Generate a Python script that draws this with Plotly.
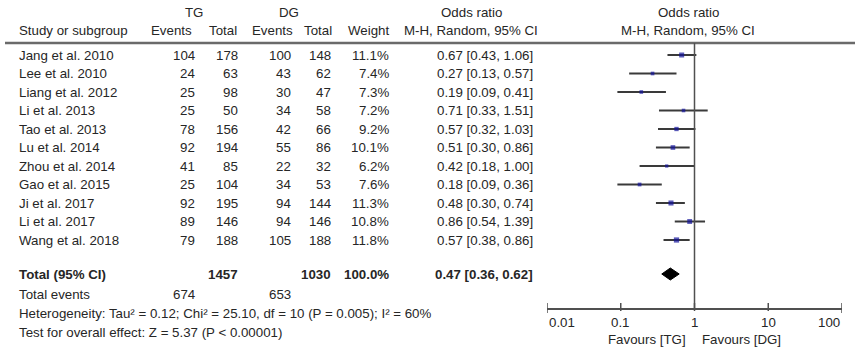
import math
import plotly.graph_objects as go

studies = ["Jang et al. 2010", "Lee et al. 2010", "Liang et al. 2012", "Li et al. 2013",
           "Tao et al. 2013", "Lu et al. 2014", "Zhou et al. 2014", "Gao et al. 2015",
           "Ji et al. 2017", "Li et al. 2017", "Wang et al. 2018"]
tg_events = [104, 24, 25, 25, 78, 92, 41, 25, 92, 89, 79]
tg_total = [178, 63, 98, 50, 156, 194, 85, 104, 195, 146, 188]
dg_events = [100, 43, 30, 34, 42, 55, 22, 34, 94, 94, 105]
dg_total = [148, 62, 47, 58, 66, 86, 32, 53, 144, 146, 188]
weights = [11.1, 7.4, 7.3, 7.2, 9.2, 10.1, 6.2, 7.6, 11.3, 10.8, 11.8]
odds = [0.67, 0.27, 0.19, 0.71, 0.57, 0.51, 0.42, 0.18, 0.48, 0.86, 0.57]
ci_low = [0.43, 0.13, 0.09, 0.33, 0.32, 0.30, 0.18, 0.09, 0.30, 0.54, 0.38]
ci_high = [1.06, 0.57, 0.41, 1.51, 1.03, 0.86, 1.00, 0.36, 0.74, 1.39, 0.86]

total_tg = 1457
total_dg = 1030
total_weight = "100.0%"
total_or = 0.47
total_low = 0.36
total_high = 0.62
events_tg = 674
events_dg = 653
heterogeneity = "Heterogeneity: Tau² = 0.12; Chi² = 25.10, df = 10 (P = 0.005); I² = 60%"
overall = "Test for overall effect: Z = 5.37 (P < 0.00001)"
tick_vals = [0.01, 0.1, 1, 10, 100]
tick_text = ["0.01", "0.1", "1", "10", "100"]

W, H = 860, 353
FONT = "Liberation Sans, Arial, sans-serif"
TXT = "#262626"
FS = 13.3

row_y = [55 + 18.5 * i for i in range(len(studies))]
y_total = 274
y_events = 294
y_het = 313
y_test = 332
y_axis = 309
y_head1 = 12
y_head2 = 30
y_rule = 43

fig = go.Figure()

# CI lines
lx, ly = [], []
for lo, hi, y in zip(ci_low, ci_high, row_y):
    lx += [lo, hi, None]
    ly += [y, y, None]
fig.add_trace(go.Scatter(x=lx, y=ly, mode="lines", line=dict(color="#3a3a3a", width=2),
                         hoverinfo="skip", showlegend=False))
# point estimates
fig.add_trace(go.Scatter(x=odds, y=row_y, mode="markers",
                         marker=dict(symbol="square", color="#12129a",
                                     size=[1.0 + 0.36 * w for w in weights], line=dict(width=0)),
                         showlegend=False))
# diamond
fig.add_trace(go.Scatter(x=[total_low, total_or, total_high, total_or, total_low],
                         y=[y_total, y_total - 6, y_total, y_total + 6, y_total],
                         mode="lines", fill="toself", fillcolor="black",
                         line=dict(color="black", width=1), showlegend=False))

shapes = []
# header rule
shapes.append(dict(type="line", xref="paper", yref="y", x0=5 / W, x1=855 / W, y0=y_rule, y1=y_rule,
                   line=dict(color="#6a6a6a", width=2.5)))
# null line
shapes.append(dict(type="line", xref="x", yref="y", x0=1, x1=1, y0=y_rule, y1=y_axis,
                   line=dict(color="#505050", width=1.5)))
# axis line
shapes.append(dict(type="line", xref="x", yref="y", x0=tick_vals[0], x1=tick_vals[-1],
                   y0=y_axis, y1=y_axis, line=dict(color="#505050", width=2)))
for i, t in enumerate(tick_vals):
    ext = 4 if i in (0, len(tick_vals) - 1) else 2
    shapes.append(dict(type="line", xref="x", yref="y", x0=t, x1=t, y0=y_axis - 6, y1=y_axis + ext,
                       line=dict(color="#505050", width=1.5)))

ann = []


def txt(x, y, s, anchor="left", bold=False, xref="paper", size=FS):
    ann.append(dict(x=x / W if xref == "paper" else x, y=y, xref=xref, yref="y",
                    text=f"<b>{s}</b>" if bold else s,
                    showarrow=False, xanchor=anchor, yanchor="middle",
                    font=dict(family=FONT, size=size, color=TXT)))


# headers
txt(194, y_head1, "TG", "center")
txt(289, y_head1, "DG", "center")
txt(471, y_head1, "Odds ratio", "center")
txt(688, y_head1, "Odds ratio", "center")
txt(17, y_head2, "Study or subgroup")
txt(194, y_head2, "Events", "right")
txt(239, y_head2, "Total", "right")
txt(295, y_head2, "Events", "right")
txt(334, y_head2, "Total", "right")
txt(391, y_head2, "Weight", "right")
txt(471, y_head2, "M-H, Random, 95% CI", "center")
txt(688, y_head2, "M-H, Random, 95% CI", "center")

for i, s in enumerate(studies):
    y = row_y[i]
    txt(17, y, s)
    txt(197, y, str(tg_events[i]), "right")
    txt(240, y, str(tg_total[i]), "right")
    txt(293, y, str(dg_events[i]), "right")
    txt(333, y, str(dg_total[i]), "right")
    txt(391, y, f"{weights[i]:.1f}%", "right")
    txt(535, y, f"{odds[i]:.2f} [{ci_low[i]:.2f}, {ci_high[i]:.2f}]", "right")

txt(17, y_total, "Total (95% CI)", bold=True)
txt(240, y_total, str(total_tg), "right", bold=True)
txt(333, y_total, str(total_dg), "right", bold=True)
txt(391, y_total, total_weight, "right", bold=True)
txt(535, y_total, f"{total_or:.2f} [{total_low:.2f}, {total_high:.2f}]", "right", bold=True)
txt(17, y_events, "Total events")
txt(197, y_events, str(events_tg), "right")
txt(293, y_events, str(events_dg), "right")
txt(17, y_het, heterogeneity)
txt(17, y_test, overall)

for i, (t, s) in enumerate(zip(tick_vals, tick_text)):
    a = "left" if i == 0 else ("right" if i == len(tick_vals) - 1 else "center")
    txt(math.log10(t), y_axis + 13, s, a, xref="x")
txt(688, 339, "Favours [TG]", "right")
txt(700, 339, "Favours [DG]", "left")

fig.update_layout(
    width=W, height=H, margin=dict(l=0, r=0, t=0, b=0),
    paper_bgcolor="white", plot_bgcolor="white",
    xaxis=dict(type="log", range=[-2, 2], domain=[547 / W, 842 / W], visible=False),
    yaxis=dict(range=[H, 0], domain=[0, 1], visible=False),
    shapes=shapes, annotations=ann, showlegend=False,
)

fig.write_html("out.html", config={"displayModeBar": False},
               post_script="document.body.style.margin='0px';document.body.style.overflow='hidden';")
